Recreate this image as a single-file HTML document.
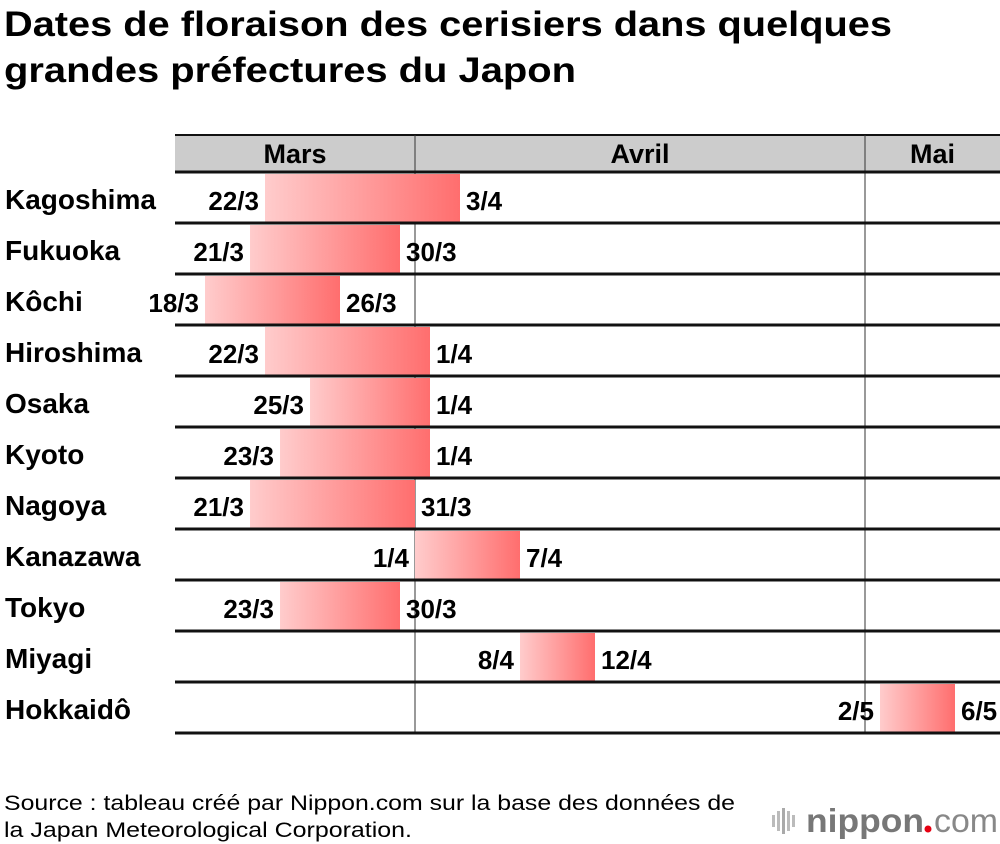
<!DOCTYPE html>
<html><head><meta charset="utf-8"><style>
html,body{margin:0;padding:0;background:#fff;width:1000px;height:844px;overflow:hidden}
svg text{font-family:"Liberation Sans",sans-serif}
.narrow{font-family:"Liberation Sans Narrow","Liberation Sans",sans-serif;font-weight:bold;font-size:26px}
</style></head><body>
<svg id="chart" width="1000" height="844" viewBox="0 0 1000 844" xmlns="http://www.w3.org/2000/svg">
<defs><linearGradient id="grad" x1="0" x2="1" y1="0" y2="0"><stop offset="0" stop-color="#ffcccc"/><stop offset="1" stop-color="#ff6e6e"/></linearGradient></defs>
<text x="4" y="36" font-size="35" font-weight="bold" textLength="888" lengthAdjust="spacingAndGlyphs">Dates de floraison des cerisiers dans quelques</text>
<text x="4" y="82" font-size="35" font-weight="bold" textLength="572" lengthAdjust="spacingAndGlyphs">grandes préfectures du Japon</text>
<rect x="175" y="135" width="825" height="37" fill="#cccccc"/>
<line x1="175" x2="1000" y1="135" y2="135" stroke="#111" stroke-width="2"/>
<g id="marks"></g>
<text x="4" y="810" font-size="21" textLength="731" lengthAdjust="spacingAndGlyphs">Source : tableau créé par Nippon.com sur la base des données de</text>
<text x="4" y="837" font-size="21" textLength="408" lengthAdjust="spacingAndGlyphs">la Japan Meteorological Corporation.</text>
<g>
<rect x="772" y="815" width="3" height="12" fill="#bbb"/><rect x="777" y="811" width="3" height="20" fill="#bbb"/><rect x="782" y="808" width="3" height="26" fill="#aaa"/><rect x="787" y="811" width="3" height="20" fill="#bbb"/><rect x="792" y="815" width="3" height="12" fill="#bbb"/>
<text x="806" y="832" font-size="33" font-weight="bold" fill="#777" textLength="118" lengthAdjust="spacingAndGlyphs">nippon</text>
<circle cx="928" cy="829" r="3.5" fill="#e60012"/>
<text x="934" y="832" font-size="33" fill="#888" textLength="64" lengthAdjust="spacingAndGlyphs">com</text>
</g>
</svg>
<script>
const cities = ["Kagoshima","Fukuoka","Kôchi","Hiroshima","Osaka","Kyoto","Nagoya","Kanazawa","Tokyo","Miyagi","Hokkaidô"];
const startDates = ["22/3","21/3","18/3","22/3","25/3","23/3","21/3","1/4","23/3","8/4","2/5"];
const endDates = ["3/4","30/3","26/3","1/4","1/4","1/4","31/3","7/4","30/3","12/4","6/5"];
const months = ["Mars","Avril","Mai"];
const monthStarts = ["16/3","1/4","1/5"];

const X0 = 175, PX = 15, TOP = 172, ROWH = 51;
function dayIndex(s){const [d,m]=s.split("/").map(Number); if(m===3) return d-16; if(m===4) return 15+d; return 45+d;}
function xStart(s){return X0 + dayIndex(s)*PX;}
function xEnd(s){return X0 + (dayIndex(s)+1)*PX;}
const NS="http://www.w3.org/2000/svg";
const g=document.getElementById("marks");
function mk(t,a){const e=document.createElementNS(NS,t);for(const k in a)e.setAttribute(k,a[k]);g.appendChild(e);return e;}
months.forEach((m,i)=>{
  const x1=xStart(monthStarts[i]);
  const x2=i+1<months.length?xStart(monthStarts[i+1]):1000;
  const t=mk("text",{x:(x1+x2)/2,y:163,"text-anchor":"middle","font-size":"27","font-weight":"bold"});
  t.textContent=m;
  
  
  if(i>0){const l=mk("line",{x1:x1,x2:x1,y1:135,y2:TOP+cities.length*ROWH,stroke:"#333","stroke-width":"1"});
  
  }
});
cities.forEach((c,i)=>{
  const top=TOP+i*ROWH;
  const xs=xStart(startDates[i]), xe=xEnd(endDates[i]);
  const b=mk("rect",{x:xs,y:top+2,width:xe-xs,height:ROWH-3,fill:"url(#grad)"});
  
  
  const n=mk("text",{x:5,y:top+37,"font-size":"28","font-weight":"bold"});n.textContent=c;
  
  
  const s=mk("text",{x:xs-6,y:top+38,"text-anchor":"end",class:"narrow"});s.textContent=startDates[i];
  
  
  const e=mk("text",{x:xe+6,y:top+38,class:"narrow"});e.textContent=endDates[i];
  
  
});
for(let i=0;i<=cities.length;i++){
  const y=TOP+i*ROWH;
  const l=mk("line",{x1:X0,x2:1000,y1:y,y2:y,stroke:"#111","stroke-width":"3"});
  
  
}
</script>
</body></html>
